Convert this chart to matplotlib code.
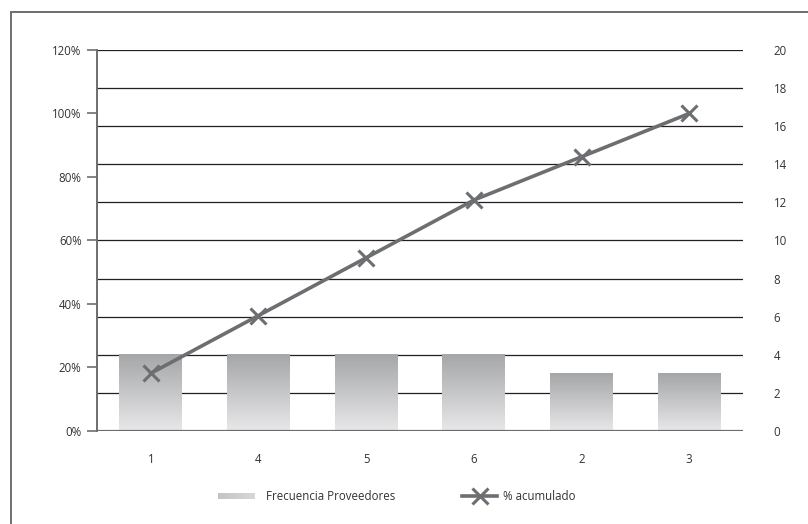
import numpy as np
import matplotlib
matplotlib.use("Agg")
import matplotlib.pyplot as plt
from matplotlib.colors import LinearSegmentedColormap
from matplotlib.lines import Line2D
from matplotlib.patches import Rectangle

plt.rcParams['font.family'] = ['Open Sans', 'DejaVu Sans']

# datos del diagrama de Pareto
proveedores = ['1', '4', '5', '6', '2', '3']
frecuencia = [4, 4, 4, 4, 3, 3]
pct_acumulado = [0.1818, 0.3636, 0.5455, 0.7273, 0.8636, 1.0]
ticks_pct = [0, 0.2, 0.4, 0.6, 0.8, 1.0, 1.2]
ticks_frec = list(range(0, 21, 2))

gris_linea = '#6d6e71'
gris_texto = '#333335'
degradado = LinearSegmentedColormap.from_list('barra', ['#e8e8e9', '#a5a6a8'])

fig = plt.figure(figsize=(8.08, 5.24), dpi=100)
ax = fig.add_axes([0.12, 0.1775, 0.7996, 0.7271])
ax2 = ax.twinx()

x = np.arange(len(proveedores))
ancho = 0.585

# lineas horizontales de la escala de frecuencia
for t in ticks_frec[1:]:
    ax.axhline(t, color='#231f20', lw=0.9, zorder=1)
ax.axhline(0, color=gris_linea, lw=1.6, zorder=4)

# barras con degradado vertical
grad = np.linspace(0, 1, 256).reshape(-1, 1)
for xi, f in zip(x, frecuencia):
    ax.imshow(grad, extent=[xi - ancho / 2, xi + ancho / 2, 0, f], origin='lower',
              cmap=degradado, aspect='auto', zorder=2)

ax.set_xlim(-0.5, len(proveedores) - 0.5)
ax.set_ylim(0, 20)
ax.set_yticks(ticks_frec)
ax.yaxis.tick_right()
ax.tick_params(axis='y', length=0, pad=22, labelsize=8.3, labelcolor=gris_texto)
ax.set_xticks(x)
ax.set_xticklabels(proveedores)
ax.tick_params(axis='x', length=0, pad=16, labelsize=8.3, labelcolor=gris_texto)

# linea del porcentaje acumulado
ax2.plot(x, pct_acumulado, color=gris_linea, lw=2.6, marker='x', markersize=11,
         markeredgewidth=2.2, zorder=5)
ax2.set_ylim(0, 1.2)
ax2.set_yticks(ticks_pct)
ax2.set_yticklabels([f'{int(round(t * 100))}%' for t in ticks_pct])
ax2.yaxis.tick_left()
ax2.tick_params(axis='y', length=7, width=1.2, color=gris_linea, pad=4,
                labelsize=8.3, labelcolor=gris_texto)

for a in (ax, ax2):
    for s in a.spines.values():
        s.set_visible(False)
ax2.spines['left'].set_visible(True)
ax2.spines['left'].set_color(gris_linea)
ax2.spines['left'].set_linewidth(1.4)

# leyenda dibujada a mano
lg = fig.add_axes([218 / 808, 1 - 499 / 524, 37 / 808, 6 / 524])
lg.imshow(np.linspace(0.55, 0.25, 64).reshape(1, -1), cmap=degradado, vmin=0, vmax=1,
          aspect='auto')
lg.axis('off')
fig.text(266 / 808, 1 - 496 / 524, 'Frecuencia Proveedores', fontsize=8.3,
         color=gris_texto, va='center')
fig.add_artist(Line2D([462 / 808, 497 / 808], [1 - 496 / 524] * 2, color=gris_linea,
                      lw=2.6))
fig.add_artist(Line2D([479.5 / 808], [1 - 496 / 524], color=gris_linea, marker='x',
                      markersize=11, markeredgewidth=2.2))
fig.text(503 / 808, 1 - 496 / 524, '% acumulado', fontsize=8.3, color=gris_texto,
         va='center')

# marco exterior
fig.add_artist(Rectangle((11 / 808, -0.1), 1.2, 1 - 12 / 524 + 0.1, fill=False,
                         edgecolor=gris_linea, lw=1.4, transform=fig.transFigure))

fig.savefig('out.png', dpi=100)
